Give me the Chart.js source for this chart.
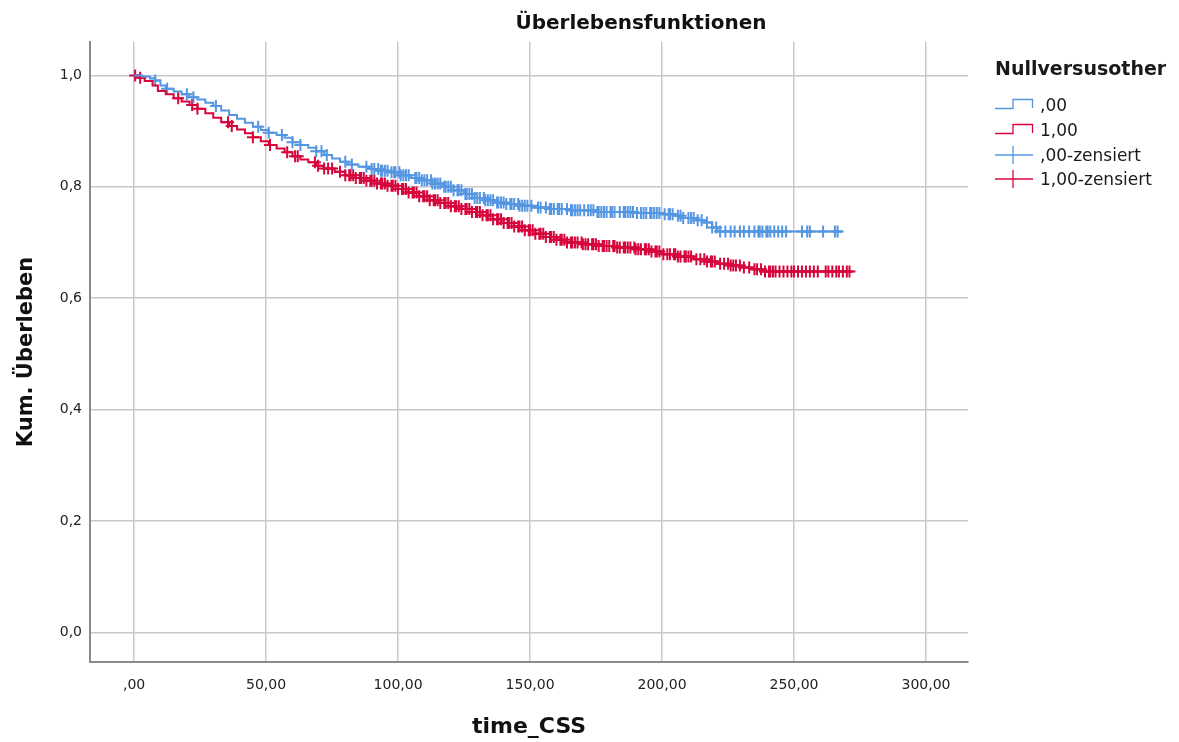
<!DOCTYPE html>
<html>
<head>
<meta charset="utf-8">
<title>Überlebensfunktionen</title>
<script src="https://cdn.jsdelivr.net/npm/chart.js@4.4.1/dist/chart.umd.min.js"></script>
<style>
    html, body { margin: 0; padding: 0; background: #ffffff; }
    #wrap { position: relative; width: 1179px; height: 742px; }
    #chartTitle { position: absolute; left: 441px; width: 400px; top: 10px; text-align: center; font-family: 'DejaVu Sans', sans-serif; font-size: 20px; font-weight: bold; line-height: 24px; color: #111111; }
    #legend { position: absolute; left: 0; top: 0; font-family: 'DejaVu Sans', sans-serif; color: #1a1a1a; }
    .lg-title { position: absolute; left: 995px; top: 56px; font-size: 19px; font-weight: bold; line-height: 24px; white-space: nowrap; }
    .lg-row { position: absolute; left: 995px; height: 20px; display: flex; align-items: center; font-size: 17px; white-space: nowrap; }
    .lg-row svg { width: 40px; height: 20px; margin-right: 5px; }
</style>
</head>
<body>
<div id="wrap">
    <canvas id="kmChart" width="1179" height="742"></canvas>
    <div id="chartTitle">Überlebensfunktionen</div>
    <div id="legend"></div>
</div>
<script>
// axis ticks
const xTicks = [0, 50, 100, 150, 200, 250, 300];
const xTickLabels = [',00', '50,00', '100,00', '150,00', '200,00', '250,00', '300,00'];
const yTicks = [0, 0.2, 0.4, 0.6, 0.8, 1.0];
const yTickLabels = ['0,0', '0,2', '0,4', '0,6', '0,8', '1,0'];

// group ,00 - event times and survival after each step
const blueTimes = [0, 3, 6, 8, 10, 12, 15, 18, 21, 24, 27, 30, 33, 36, 39, 42, 45, 48, 51, 54, 57, 60, 63, 66, 69, 72, 75, 78, 81, 85, 89, 93, 97, 101, 105, 109, 113, 117, 121, 125, 129, 133, 137, 141, 146, 151, 157, 165, 175, 190, 200, 205, 208, 213, 216, 219, 221];
const blueSurv = [1.000, 0.998, 0.995, 0.991, 0.982, 0.976, 0.971, 0.966, 0.961, 0.957, 0.951, 0.945, 0.937, 0.929, 0.922, 0.915, 0.908, 0.902, 0.897, 0.893, 0.888, 0.880, 0.875, 0.870, 0.864, 0.857, 0.851, 0.845, 0.840, 0.836, 0.832, 0.829, 0.826, 0.821, 0.816, 0.812, 0.806, 0.800, 0.794, 0.787, 0.780, 0.776, 0.772, 0.769, 0.766, 0.763, 0.760, 0.758, 0.755, 0.753, 0.751, 0.748, 0.744, 0.740, 0.736, 0.727, 0.720];
const blueEnd = 268.5;
const blueCensored = [8, 12.5, 20, 22.5, 31, 47, 51, 56, 60, 63, 69, 71, 73, 80, 82.5, 88, 90, 91, 92.5, 93.5, 94, 95, 96, 97.5, 98.5, 99, 100.5, 101, 102, 103, 104, 106.5, 107, 108, 109, 110, 111, 112.5, 113, 114, 115, 116, 117.5, 118, 119, 120, 121, 122.5, 123, 124, 125.5, 126, 127, 128, 129, 130, 131, 132.5, 133, 134, 135, 136, 137.5, 138, 139, 140, 141, 142.5, 143, 144, 145.5, 146, 147, 148, 149, 150.5, 153, 154, 156, 157.5, 158, 159, 160.5, 161, 162, 164, 165.5, 166, 167, 168, 169, 170.5, 172, 173, 174, 175.5, 176, 177, 178, 179, 180.5, 181, 182, 184, 185.5, 186, 187, 188, 189, 190.5, 192, 193, 194, 195.5, 196, 197, 198, 199, 201, 202.5, 203, 204, 206, 207, 208, 210, 211, 212, 213.5, 215, 217, 219, 220.5, 222, 224, 226, 227.5, 229.5, 231, 233, 235, 236.5, 237, 238, 239.5, 240, 241, 242.5, 244, 245.5, 247, 253, 255, 256, 261, 265.5, 266.5];

// group 1,00
const redTimes = [0, 2, 4, 7, 9, 12, 15, 18, 21, 24, 27, 30, 33, 36, 39, 42, 45, 48, 51, 54, 57, 60, 63, 66, 69, 72, 76, 80, 84, 88, 92, 96, 100, 104, 108, 112, 116, 120, 124, 128, 132, 136, 140, 144, 148, 152, 156, 160, 164, 170, 176, 183, 190, 196, 200, 206, 212, 217, 221, 226, 230, 234, 238];
const redSurv = [1.000, 0.996, 0.990, 0.982, 0.972, 0.966, 0.959, 0.953, 0.947, 0.940, 0.932, 0.924, 0.916, 0.909, 0.903, 0.896, 0.889, 0.882, 0.875, 0.869, 0.862, 0.855, 0.849, 0.844, 0.838, 0.833, 0.827, 0.821, 0.816, 0.811, 0.806, 0.802, 0.796, 0.790, 0.783, 0.776, 0.771, 0.765, 0.760, 0.755, 0.749, 0.742, 0.735, 0.729, 0.722, 0.716, 0.710, 0.705, 0.700, 0.697, 0.694, 0.691, 0.688, 0.684, 0.679, 0.675, 0.670, 0.666, 0.662, 0.659, 0.655, 0.652, 0.648];
const redEnd = 272;
const redCensored = [0.4, 2.3, 16.7, 22, 24, 35.6, 37, 45, 51.5, 58, 61, 62, 68.5, 69.7, 72, 73.5, 75, 78, 80, 81.5, 82, 83, 84, 85.5, 86, 87, 88, 89.5, 90, 91, 92, 93.5, 94, 95, 96, 97.5, 98, 99, 100, 101.5, 102, 103, 104, 105.5, 106, 107, 108, 109.5, 110, 111, 112, 113.5, 114, 115, 116, 117.5, 118, 119, 120, 121.5, 122, 123, 124, 125.5, 126, 127, 128, 129.5, 130, 131, 132, 133.5, 134, 135, 136, 137.5, 138, 139, 140, 141.5, 142, 143, 144, 145.5, 146, 147, 148, 149.5, 150, 151, 152, 153.5, 154, 155, 156, 157.5, 158, 159, 160, 161.5, 162, 163, 164, 165.5, 166, 167, 168, 169.5, 170, 171, 172, 173.5, 174, 175, 176, 177.5, 178, 179, 180, 181.5, 182, 183, 184, 185.5, 186, 187, 188, 189.5, 190, 191, 192, 193.5, 194, 195, 196, 197.5, 198, 199, 200.5, 202, 203, 204.5, 205, 206, 207, 208.5, 209, 210, 211, 213, 214.5, 216, 217, 218.5, 219, 220, 222, 223.5, 225, 226, 227, 228, 229.5, 231, 233, 235, 236, 237.5, 239, 240.5, 241, 242, 243, 244.5, 246, 247.5, 249, 250, 251.5, 253, 254.5, 256, 257.5, 259, 262, 263, 264.5, 266, 267, 268.5, 270, 271];

const BLUE = '#5596e2';
const RED = '#d6063c';
const FONT = "'DejaVu Sans', sans-serif";

// value of the step curve at time t
function survAt(times, surv, t) {
    let s = surv[0];
    for (let i = 0; i < times.length; i++) {
        if (times[i] <= t) s = surv[i];
    }
    return s;
}

function stepPoints(times, surv, end) {
    const pts = times.map((t, i) => ({ x: t, y: surv[i] }));
    pts.push({ x: end, y: surv[surv.length - 1] });
    return pts;
}

function censorPoints(cens, times, surv) {
    return cens.map(t => ({ x: t, y: survAt(times, surv, t) }));
}

const ctx = document.getElementById('kmChart').getContext('2d');
new Chart(ctx, {
    type: 'scatter',
    data: {
        datasets: [
            {
                label: ',00',
                data: stepPoints(blueTimes, blueSurv, blueEnd),
                showLine: true,
                stepped: true,
                borderColor: BLUE,
                borderWidth: 2,
                pointRadius: 0
            },
            {
                label: '1,00',
                data: stepPoints(redTimes, redSurv, redEnd),
                showLine: true,
                stepped: true,
                borderColor: RED,
                borderWidth: 2,
                pointRadius: 0
            },
            {
                label: ',00-zensiert',
                data: censorPoints(blueCensored, blueTimes, blueSurv),
                showLine: false,
                pointStyle: 'cross',
                pointRadius: 6,
                pointBorderWidth: 2,
                pointBorderColor: BLUE,
                pointBackgroundColor: BLUE
            },
            {
                label: '1,00-zensiert',
                data: censorPoints(redCensored, redTimes, redSurv),
                showLine: false,
                pointStyle: 'cross',
                pointRadius: 6,
                pointBorderWidth: 2,
                pointBorderColor: RED,
                pointBackgroundColor: RED
            }
        ]
    },
    options: {
        responsive: false,
        animation: false,
        layout: { padding: { left: 0, right: 211, top: 42, bottom: 0 } },
        plugins: {
            legend: { display: false },
            tooltip: { enabled: false },
            title: { display: false }
        },
        scales: {
            x: {
                type: 'linear',
                min: -16.7,
                max: 315.9,
                afterBuildTicks: s => { s.ticks = xTicks.map(v => ({ value: v })); },
                afterFit: s => { s.height = 80; },
                ticks: {
                    padding: 15,
                    color: '#222222',
                    font: { family: FONT, size: 14 },
                    callback: v => xTickLabels[xTicks.indexOf(v)]
                },
                grid: { color: '#c8c8c8', lineWidth: 1.5, drawTicks: false },
                border: { color: '#8a8a8a', width: 2 },
                title: {
                    display: true,
                    text: 'time_CSS',
                    color: '#111111',
                    font: { family: FONT, size: 22, weight: 'bold', lineHeight: 1.2 },
                    padding: { top: 0, bottom: 2 }
                }
            },
            y: {
                type: 'linear',
                min: -0.053,
                max: 1.06,
                afterBuildTicks: s => { s.ticks = yTicks.map(v => ({ value: v })); },
                afterFit: s => { s.width = 90; },
                ticks: {
                    padding: 8,
                    color: '#222222',
                    font: { family: FONT, size: 14 },
                    callback: v => yTickLabels[yTicks.findIndex(t => Math.abs(t - v) < 1e-9)]
                },
                grid: { color: '#c8c8c8', lineWidth: 1.5, drawTicks: false },
                border: { color: '#8a8a8a', width: 2 },
                title: {
                    display: true,
                    text: 'Kum. Überleben',
                    color: '#111111',
                    font: { family: FONT, size: 21, weight: 'bold', lineHeight: 1.2 },
                    padding: { top: 14, bottom: 0 }
                }
            }
        }
    }
});

// legend, SPSS style: step icons for the curves, crosses for censored cases
function renderLegend() {
    const box = document.getElementById('legend');
    const rows = [
        { text: ',00', color: BLUE, kind: 'step', cy: 105 },
        { text: '1,00', color: RED, kind: 'step', cy: 130 },
        { text: ',00-zensiert', color: BLUE, kind: 'cross', cy: 155 },
        { text: '1,00-zensiert', color: RED, kind: 'cross', cy: 179 }
    ];
    let html = '<div class="lg-title">Nullversusother</div>';
    rows.forEach(r => {
        const icon = r.kind === 'step'
            ? `<polyline points="0,13.5 18,13.5 18,4.5 37.5,4.5 37.5,13" fill="none" stroke="${r.color}" stroke-width="1.3"/>`
            : `<line x1="0" y1="10" x2="38" y2="10" stroke="${r.color}" stroke-width="1.3"/><line x1="18" y1="1" x2="18" y2="19" stroke="${r.color}" stroke-width="1.3"/>`;
        html += `<div class="lg-row" style="top:${r.cy - 10}px"><svg viewBox="0 0 40 20">${icon}</svg><span>${r.text}</span></div>`;
    });
    box.innerHTML = html;
}
renderLegend();
</script>
</body>
</html>
